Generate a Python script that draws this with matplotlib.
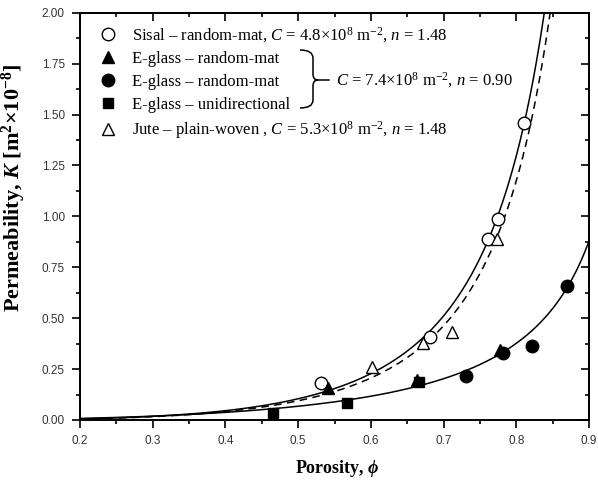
import matplotlib
matplotlib.use("Agg")
import matplotlib.pyplot as plt
import numpy as np
from matplotlib.path import Path
from matplotlib.patches import PathPatch
from matplotlib.ticker import MultipleLocator

plt.rcParams["font.family"] = ["Liberation Serif", "DejaVu Serif"]
plt.rcParams["mathtext.fontset"] = "custom"
plt.rcParams["mathtext.rm"] = "Liberation Serif"
plt.rcParams["mathtext.it"] = "Liberation Serif:italic"
plt.rcParams["mathtext.bf"] = "Liberation Serif:bold"
plt.rcParams["mathtext.bfit"] = "Liberation Serif:italic:bold"
plt.rcParams["mathtext.fallback"] = "stix"

# measured points (porosity, permeability x1e-8 m^2)
sisal_phi = [0.531, 0.681, 0.761, 0.775, 0.811]
sisal_K   = [0.180, 0.410, 0.890, 0.985, 1.456]
eg_tri_phi = [0.541, 0.664, 0.778]
eg_tri_K   = [0.155, 0.196, 0.343]
eg_cir_phi = [0.731, 0.782, 0.822, 0.870]
eg_cir_K   = [0.216, 0.330, 0.363, 0.657]
eg_sq_phi = [0.465, 0.567, 0.666]
eg_sq_K   = [0.034, 0.083, 0.186]
jute_phi = [0.602, 0.672, 0.712, 0.774]
jute_K   = [0.260, 0.380, 0.430, 0.887]

# fitted model parameters  K = phi^(n+1) / (C (1-phi)^n)
C_sisal, n_sisal = 4.8e8, 1.48
C_eg, n_eg = 7.4e8, 0.90
C_jute, n_jute = 5.3e8, 1.48


def model(phi, C, n):
    return phi ** (n + 1) / (C * (1 - phi) ** n) * 1e8


W, H = 598, 482
fig = plt.figure(figsize=(W / 100, H / 100), dpi=100)
ax = fig.add_axes([80 / W, 1 - 420 / H, 509 / W, 407.3 / H])

phi = np.linspace(0.2, 0.899, 600)
ax.plot(phi, model(phi, C_sisal, n_sisal), color="black", lw=1.1)
ax.plot(phi, model(phi, C_jute, n_jute), color="black", lw=1.1, ls=(0, (5, 3.5)))
ax.plot(phi, model(phi, C_eg, n_eg), color="black", lw=1.1)

ms = 9
h1, = ax.plot(sisal_phi, sisal_K, ls="none", marker="o", ms=ms, mfc="white", mec="black", mew=1.0,
              label=r"Sisal – random-mat, $C$ = 4.8×10$^8$ m$^{-2}$, $n$ = 1.48")
h2, = ax.plot(eg_tri_phi, eg_tri_K, ls="none", marker="^", ms=ms, color="black",
              label="E-glass – random-mat")
h3, = ax.plot(eg_cir_phi, eg_cir_K, ls="none", marker="o", ms=ms, color="black",
              label="E-glass – random-mat")
h4, = ax.plot(eg_sq_phi, eg_sq_K, ls="none", marker="s", ms=7.5, color="black",
              label="E-glass – unidirectional")
h5, = ax.plot(jute_phi, jute_K, ls="none", marker="^", ms=ms, mfc="white", mec="black", mew=1.0,
              label=r"Jute – plain-woven , $C$ = 5.3×10$^8$ m$^{-2}$, $n$ = 1.48")

ax.legend(handles=[h1, h2, h3, h4, h5], loc="upper left", bbox_to_anchor=(0.0387, 0.970),
          frameon=False, fontsize=12, handlelength=1.0, handletextpad=0.92,
          labelspacing=0.405, borderpad=0, borderaxespad=0)


def px(x, y):
    return ((x - 80) / 509, (420 - y) / 407.3)


# curly brace grouping the E-glass entries
verts = [px(300, 50), px(313, 50), px(313, 58), px(313, 74), px(313, 80), px(318, 80),
         px(313, 80), px(313, 86), px(313, 100), px(313, 108), px(300, 108)]
codes = [Path.MOVETO, Path.CURVE3, Path.CURVE3, Path.LINETO, Path.CURVE3, Path.CURVE3,
         Path.CURVE3, Path.CURVE3, Path.LINETO, Path.CURVE3, Path.CURVE3]
ax.add_patch(PathPatch(Path(verts, codes), fc="none", ec="black", lw=1.1,
                       transform=ax.transAxes, clip_on=False))
ax.plot(*zip(px(318, 80), px(329, 80)), color="black", lw=1.1, transform=ax.transAxes)
ax.text(*px(336, 80), r"$C$ = 7.4×10$^8$ m$^{-2}$, $n$ = 0.90", transform=ax.transAxes,
        fontsize=12, va="center", ha="left")

ax.set_xlim(0.2, 0.9)
ax.set_ylim(0, 2.0)
ax.xaxis.set_major_locator(MultipleLocator(0.1))
ax.xaxis.set_minor_locator(MultipleLocator(0.05))
ax.yaxis.set_major_locator(MultipleLocator(0.25))
ax.yaxis.set_minor_locator(MultipleLocator(0.125))
ax.xaxis.set_major_formatter(lambda v, _: f"{v:.1f}")
ax.yaxis.set_major_formatter(lambda v, _: f"{v:.2f}")

ax.tick_params(which="major", direction="out", length=6, width=1.2, labelsize=8.5,
               labelcolor="#333333", pad=5)
ax.tick_params(which="minor", direction="out", length=3, width=1.2)
for lab in ax.get_xticklabels() + ax.get_yticklabels():
    lab.set_family(["Liberation Sans", "DejaVu Sans"])

for s in ax.spines.values():
    s.set_linewidth(1.4)

# inward ticks on top and right
top = ax.secondary_xaxis("top")
top.xaxis.set_major_locator(MultipleLocator(0.1))
top.xaxis.set_minor_locator(MultipleLocator(0.05))
top.tick_params(which="major", direction="in", length=6, width=1.2, labeltop=False)
top.tick_params(which="minor", direction="in", length=3, width=1.2)
right = ax.secondary_yaxis("right")
right.yaxis.set_major_locator(MultipleLocator(0.25))
right.yaxis.set_minor_locator(MultipleLocator(0.125))
right.tick_params(which="major", direction="in", length=6, width=1.2, labelright=False)
right.tick_params(which="minor", direction="in", length=3, width=1.2)
top.spines["top"].set_linewidth(1.4)
right.spines["right"].set_linewidth(1.4)

ax.set_xlabel(r"Porosity, $\boldsymbol{\phi}$", fontsize=13, fontweight="bold")
ax.xaxis.set_label_coords(0.505, -0.094)
ax.set_ylabel(r"Permeability, $\boldsymbol{K}$ [m$^{\mathbf{2}}$$\mathbf{\times}$10$^{\mathbf{-8}}$]",
              fontsize=16, fontweight="bold")
ax.yaxis.set_label_coords(-0.102, 0.57)

fig.savefig("out.png", dpi=100)
